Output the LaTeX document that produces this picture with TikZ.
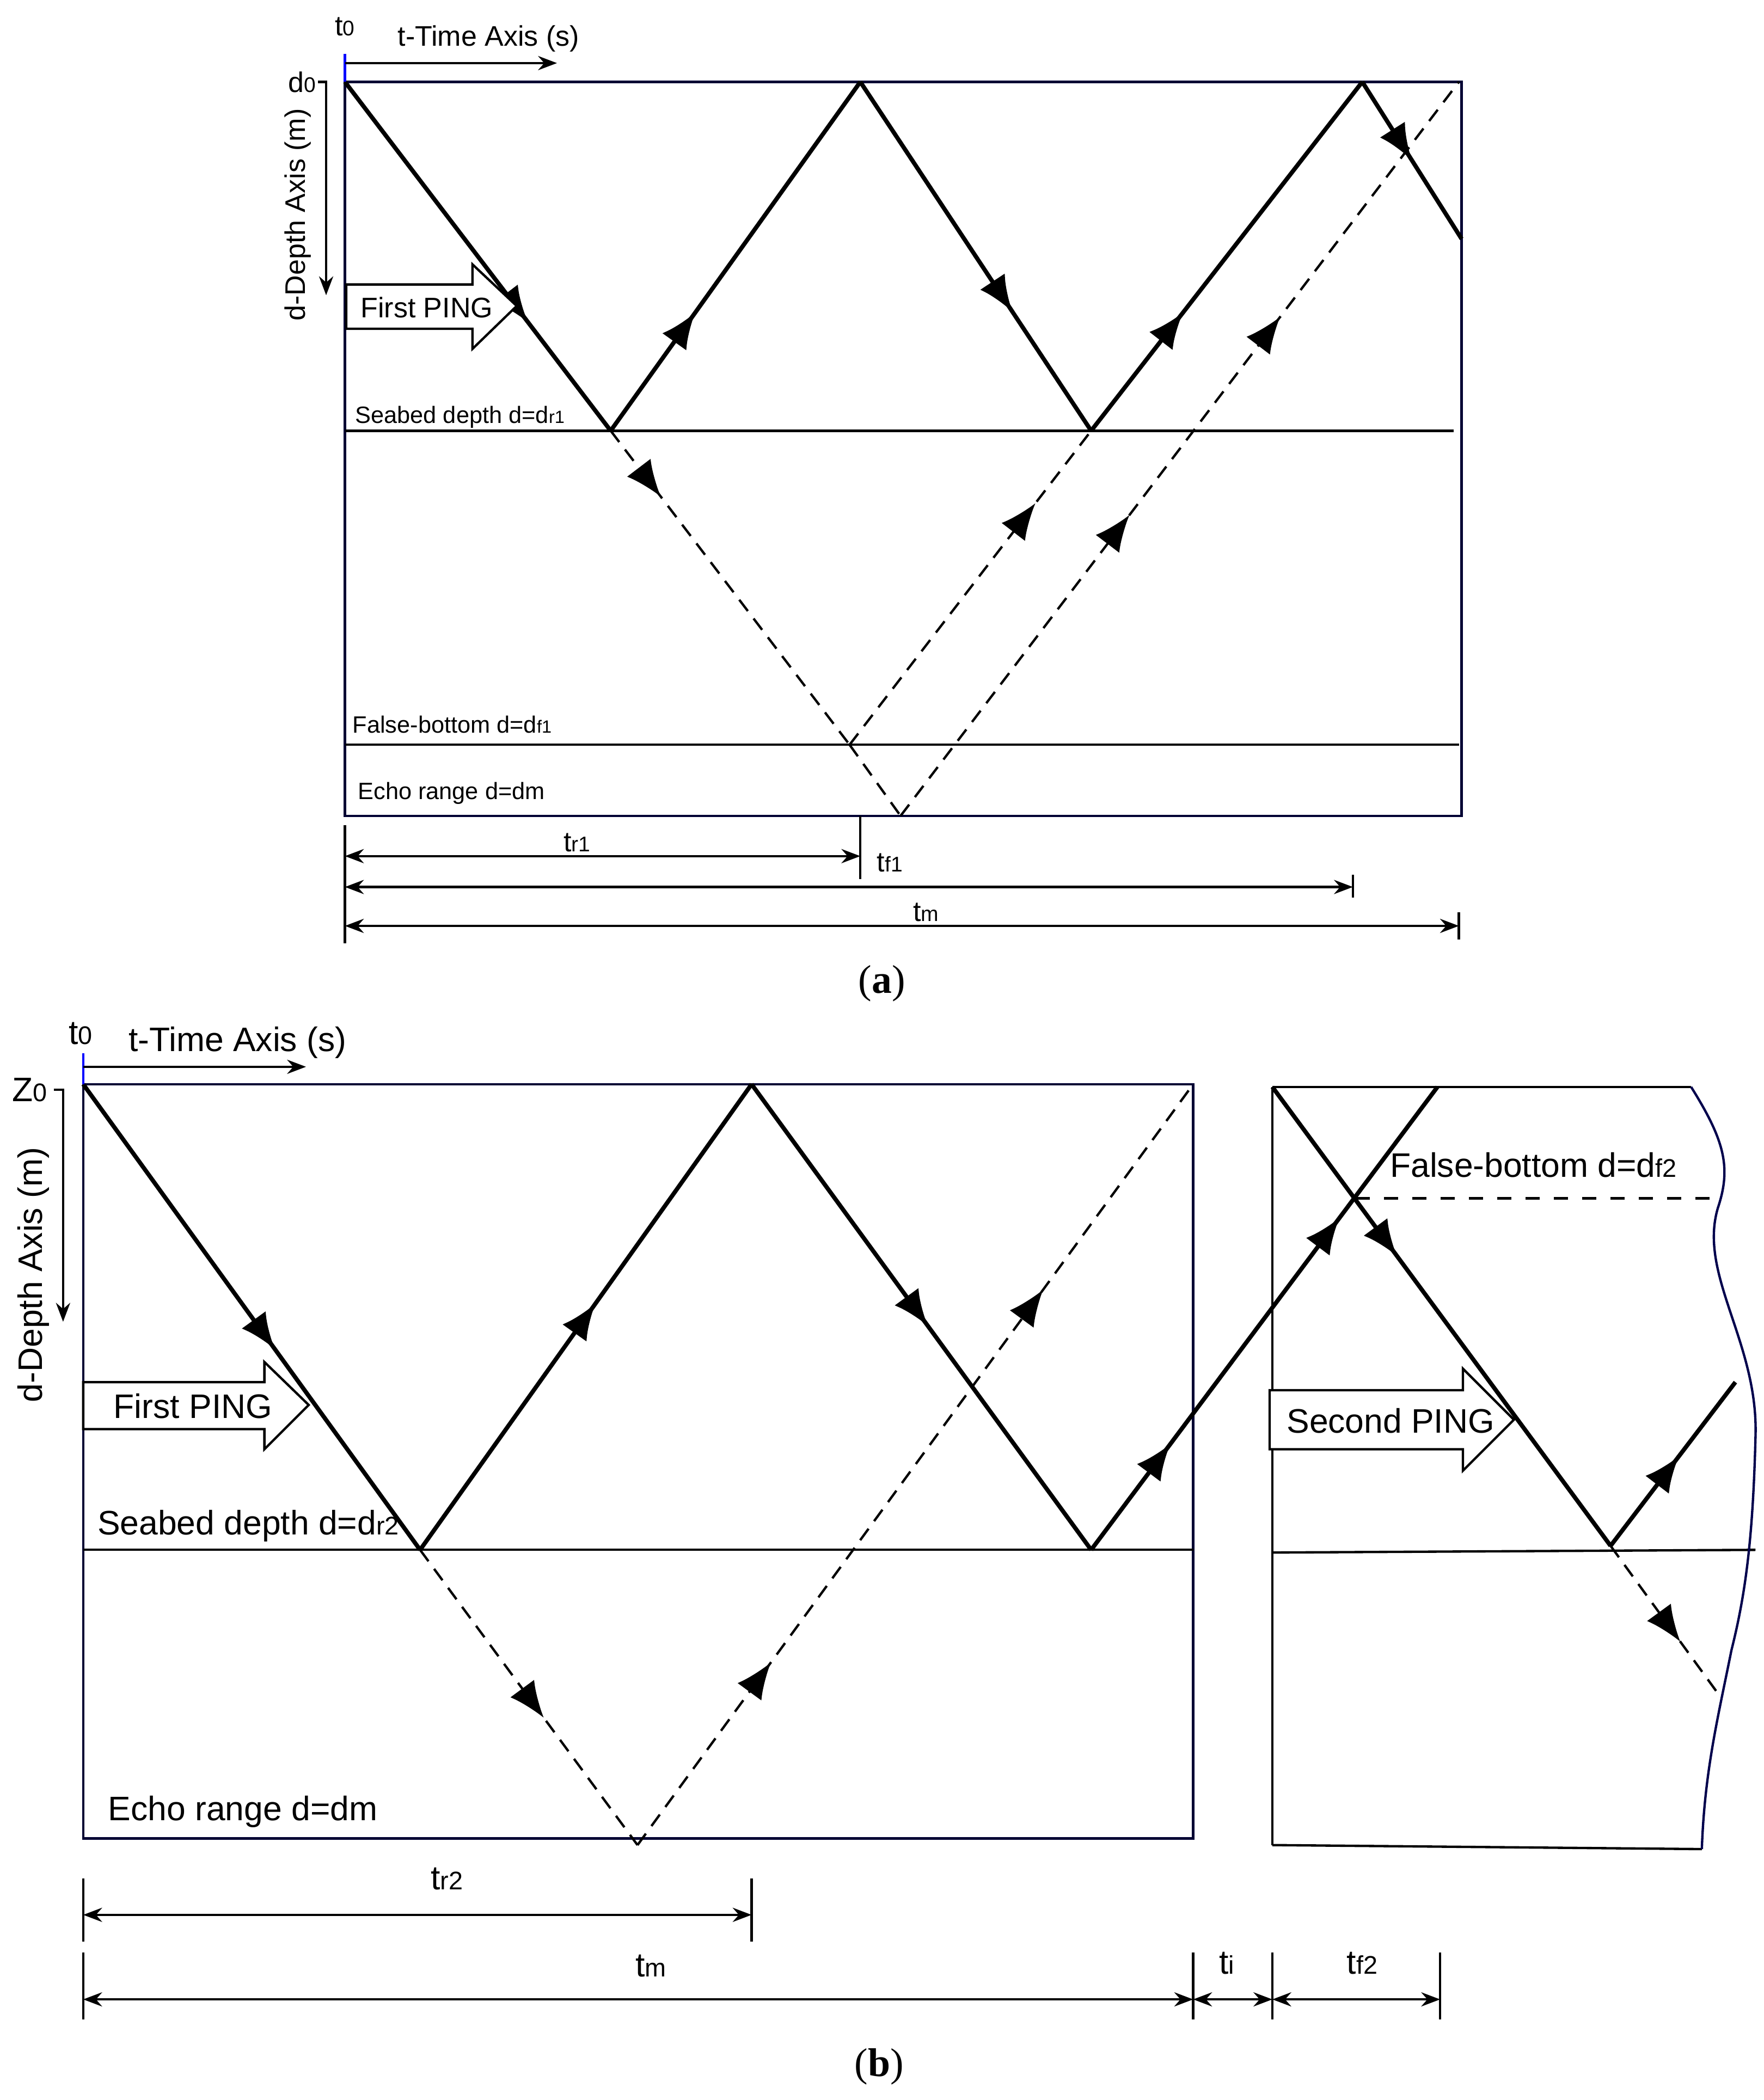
\documentclass[tikz,border=0pt]{standalone}
\usepackage{fontspec}
\setmainfont{Liberation Sans}
\newfontfamily\serif{Liberation Serif}
\usetikzlibrary{arrows.meta,decorations.markings}
\tikzset{
 ar/.style={postaction={decorate,decoration={markings,mark=at position #1 with {\arrow{Latex[length=0.27cm,width=0.22cm]}}}}},
 ray/.style={line width=0.9pt},
 dray/.style={line width=0.5pt,dash pattern=on 3pt off 2pt},
 frame/.style={draw=black!80!blue,line width=0.5pt},
 thin/.style={line width=0.5pt},
 dim/.style={line width=0.5pt,{Stealth[length=4pt]}-{Stealth[length=4pt]}},
 ping/.style={draw,thin,fill=white},
 la/.style={font=\fontsize{5}{6}\selectfont,inner sep=0pt},
 lb/.style={font=\fontsize{7.2}{8}\selectfont,inner sep=0pt},
}
\newcommand{\subt}[1]{\scalebox{0.75}{#1}}
\begin{document}
\begin{tikzpicture}[x=0.01cm,y=-0.01cm]
\useasboundingbox (0,0) rectangle (1314,1565);
% ===== (a)
\draw[frame] (257,61) rectangle (1089,608);
\draw[thin] (257,321) -- (1083,321);
\draw[thin] (257,555) -- (1087,555);
\coordinate (a0) at (257,61); \coordinate (a1) at (455,321); \coordinate (a2) at (641,61);
\coordinate (a3) at (813,321); \coordinate (a4) at (1015,61); \coordinate (a5) at (1089,178);
\coordinate (af) at (633,555); \coordinate (am) at (671,608); \coordinate (ae) at (1087,61);
\draw[ray,ar=0.69] (a0)--(a1);
\draw[ray,ar=0.34] (a1)--(a2);
\draw[ray,ar=0.66] (a2)--(a3);
\draw[ray,ar=0.34] (a3)--(a4);
\draw[ray,ar=0.5] (a4)--(a5);
\draw[dray,ar=0.21] (a1)--(af);
\draw[dray,ar=0.77] (af)--(a3);
\draw[dray] (af)--(am);
\draw[dray,ar=0.41,ar=0.68] (am)--(ae);
\draw[ping] (258,212)--(352,212)--(352,197)--(385,228)--(352,260)--(352,245)--(258,245)--cycle;
\node[la,font=\fontsize{6}{7}\selectfont,anchor=west] at (268,229) {First PING};
\draw[thin,-{Stealth[length=4pt]}] (237,61)--(243,61)--(243,220);
\node[la,font=\fontsize{6}{7}\selectfont,anchor=east] at (236,61) {d\subt{0}};
\node[la,font=\fontsize{6}{7}\selectfont,rotate=90] at (222,160) {d-Depth Axis (m)};
\draw[blue,thin] (257,40)--(257,61);
\draw[thin,-{Stealth[length=4pt]}] (257,47)--(415,47);
\node[la,font=\fontsize{6}{7}\selectfont] at (257,20) {t\subt{0}};
\node[la,font=\fontsize{6}{7}\selectfont] at (364,29) {t-Time Axis (s)};
\node[la,anchor=west] at (264,311) {Seabed depth d=d\subt{r1}};
\node[la,anchor=west] at (262,540) {False-bottom d=d\subt{f1}};
\node[la,anchor=west] at (266,591) {Echo range d=dm};
\draw[thin] (257,615)--(257,703);
\draw[thin] (641,608)--(641,655);
\draw[thin] (1008,652)--(1008,669);
\draw[thin] (1087,680)--(1087,700);
\draw[dim] (257,638)--(641,638);
\draw[dim] (257,661)--(1008,661);
\draw[dim] (257,690)--(1087,690);
\node[la,font=\fontsize{6}{7}\selectfont] at (430,628) {t\subt{r1}};
\node[la,font=\fontsize{6}{7}\selectfont] at (663,643) {t\subt{f1}};
\node[la,font=\fontsize{6}{7}\selectfont] at (690,680) {t\subt{m}};
\node[font=\serif\fontsize{8.5}{9}\selectfont] at (657,733) {(\textbf{a})};
% ===== (b)
\draw[frame] (62,808) rectangle (889,1370);
\draw[thin] (62,1155)--(889,1155);
\draw[thin] (948,810)--(1260,810);
\draw[thin] (948,810)--(948,1375);
\draw[thin] (948,1375)--(1268,1378);
\draw[thin] (948,1157)--(1308,1155);
\draw[thin,draw=blue!30!black] (1260,810) .. controls (1285,850) and (1290,870) .. (1280,900)
  .. controls (1265,950) and (1310,1000) .. (1308,1070) .. controls (1306,1150) and (1300,1190) .. (1290,1230)
  .. controls (1280,1280) and (1270,1320) .. (1268,1378);
\draw[thin,dashed] (1010,893)--(1280,893);
\coordinate (b0) at (62,808); \coordinate (b1) at (313,1155); \coordinate (b2) at (560,808);
\coordinate (b3) at (813,1155); \coordinate (b4) at (1071,810);
\coordinate (bm) at (475,1375); \coordinate (be) at (889,808);
\coordinate (c0) at (948,810); \coordinate (c1) at (1200,1152); \coordinate (c2) at (1293,1030); \coordinate (c3) at (1280,1262);
\draw[ray,ar=0.57] (b0)--(b1);
\draw[ray,ar=0.53] (b1)--(b2);
\draw[ray,ar=0.52] (b2)--(b3);
\draw[ray,ar=0.23,ar=0.72] (b3)--(b4);
\draw[dray,ar=0.57] (b1)--(bm);
\draw[dray,ar=0.24,ar=0.73] (bm)--(be);
\draw[ray,ar=0.37] (c0)--(c1);
\draw[ray,ar=0.55] (c1)--(c2);
\draw[dray,ar=0.65] (c1)--(c3);
\draw[ping] (62,1030)--(197,1030)--(197,1015)--(230,1047)--(197,1080)--(197,1065)--(62,1065)--cycle;
\node[lb,anchor=west] at (84,1048) {First PING};
\draw[ping] (946,1036)--(1090,1036)--(1090,1020)--(1128,1058)--(1090,1096)--(1090,1080)--(946,1080)--cycle;
\node[lb,anchor=west] at (958,1059) {Second PING};
\draw[thin,-{Stealth[length=4pt]}] (40,812)--(47,812)--(47,985);
\node[lb,anchor=east] at (36,812) {Z\subt{0}};
\node[lb,rotate=90] at (25,950) {d-Depth Axis (m)};
\draw[blue,thin] (62,785)--(62,808);
\draw[thin,-{Stealth[length=4pt]}] (62,795)--(228,795);
\node[lb] at (60,770) {t\subt{0}};
\node[lb] at (177,777) {t-Time Axis (s)};
\node[lb,anchor=west] at (72,1137) {Seabed depth d=d\subt{r2}};
\node[lb,anchor=west] at (80,1350) {Echo range d=dm};
\node[lb,anchor=west] at (1035,868) {False-bottom d=d\subt{f2}};
\draw[thin] (62,1400)--(62,1447);
\draw[thin] (560,1400)--(560,1447);
\draw[dim] (62,1427)--(560,1427);
\node[lb] at (333,1400) {t\subt{r2}};
\draw[thin] (62,1455)--(62,1505);
\draw[thin] (889,1455)--(889,1505);
\draw[thin] (948,1455)--(948,1505);
\draw[thin] (1073,1455)--(1073,1505);
\draw[dim] (62,1490)--(889,1490);
\draw[dim] (889,1490)--(948,1490);
\draw[dim] (948,1490)--(1073,1490);
\node[lb] at (485,1465) {t\subt{m}};
\node[lb] at (914,1463) {t\subt{i}};
\node[lb] at (1015,1463) {t\subt{f2}};
\node[font=\serif\fontsize{8.5}{9}\selectfont] at (655,1540) {(\textbf{b})};
\end{tikzpicture}
\end{document}
